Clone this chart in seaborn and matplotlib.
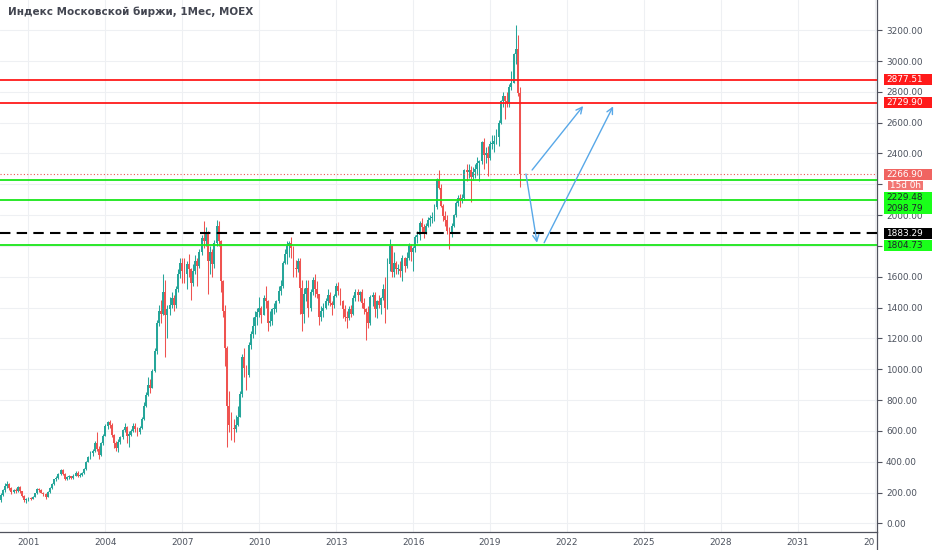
import matplotlib
matplotlib.use('Agg')
import numpy as np
import pandas as pd
import matplotlib.pyplot as plt
from matplotlib.patches import Rectangle
from matplotlib.lines import Line2D
from matplotlib.transforms import Bbox, blended_transform_factory
import seaborn as sns

TITLE = 'Индекс Московской биржи, 1Мес, MOEX'
START = '1999-12-01'

# monthly candles Dec 1999 .. Mar 2020, open = previous close
first_open = 150
closes = [
    185,
    215, 245, 255, 230, 205, 215, 210, 235, 210, 180, 150, 150,
    165, 160, 172, 195, 222, 218, 200, 190, 170, 205, 230, 255,
    285, 295, 320, 345, 320, 290, 300, 305, 295, 310, 330, 310,
    315, 330, 350, 400, 430, 455, 470, 520, 480, 445, 520, 570,
    630, 655, 640, 575, 520, 490, 530, 560, 605, 625, 570, 575,
    600, 635, 610, 590, 620, 680, 760, 830, 900, 880, 990, 1120,
    1300, 1380, 1360, 1500, 1350, 1390, 1420, 1460, 1420, 1520, 1620, 1690,
    1640, 1620, 1680, 1650, 1560, 1640, 1700, 1670, 1760, 1850, 1830, 1890,
    1700, 1760, 1680, 1820, 1930, 1830, 1570, 1380, 1140, 760, 640, 620,
    610, 640, 690, 840, 1080, 1010, 960, 1160, 1230, 1280, 1340, 1370,
    1400, 1350, 1460, 1440, 1300, 1310, 1390, 1390, 1440, 1510, 1540, 1690,
    1750, 1800, 1820, 1790, 1660, 1650, 1700, 1530, 1360, 1490, 1530, 1400,
    1500, 1580, 1520, 1490, 1340, 1380, 1400, 1440, 1480, 1430, 1420, 1475,
    1540, 1510, 1440, 1390, 1340, 1330, 1390, 1360, 1460, 1500, 1480, 1500,
    1430, 1390, 1370, 1300, 1470, 1480, 1390, 1440, 1415, 1460, 1520, 1397,
    1680, 1800, 1630, 1690, 1650, 1650, 1640, 1725, 1670, 1720, 1800, 1761,
    1785, 1860, 1870, 1950, 1920, 1890, 1930, 1970, 1980, 1980, 2050, 2232,
    2178, 2060, 1995, 1970, 1900, 1879, 1930, 2000, 2077, 2110, 2100, 2110,
    2290, 2280, 2290, 2250, 2280, 2300, 2340, 2350, 2475, 2390, 2400, 2370,
    2460, 2460, 2480, 2510, 2600, 2740, 2770, 2740, 2730, 2830, 2860, 3046,
    3076, 2794, 2266.9,
]
highs = [
    195,
    225, 260, 275, 262, 235, 225, 228, 245, 240, 212, 185, 165,
    172, 172, 180, 200, 228, 232, 222, 205, 195, 210, 235, 262,
    290, 305, 325, 355, 350, 325, 310, 315, 310, 318, 340, 338,
    330, 335, 360, 405, 440, 470, 480, 535, 595, 500, 530, 580,
    645, 665, 670, 650, 580, 535, 545, 570, 615, 650, 630, 600,
    615, 650, 650, 625, 635, 690, 790, 850, 950, 940, 1000, 1140,
    1320, 1420, 1450, 1617, 1580, 1420, 1470, 1500, 1480, 1540, 1650, 1720,
    1720, 1720, 1700, 1750, 1660, 1680, 1740, 1720, 1780, 1870, 1962, 1920,
    1900, 1800, 1780, 1840, 1970, 1960, 1840, 1580, 1420, 1150, 860, 720,
    680, 700, 760, 860, 1100, 1140, 1030, 1180, 1250, 1340, 1380, 1400,
    1470, 1410, 1480, 1540, 1450, 1380, 1400, 1430, 1450, 1540, 1580, 1700,
    1780, 1830, 1835, 1860, 1800, 1710, 1720, 1720, 1580, 1530, 1580, 1580,
    1520, 1600, 1620, 1570, 1490, 1410, 1430, 1460, 1520, 1500, 1440, 1490,
    1560, 1565, 1530, 1450, 1420, 1380, 1410, 1420, 1480, 1520, 1520, 1510,
    1520, 1460, 1400, 1410, 1480, 1500, 1500, 1450, 1480, 1470, 1550, 1600,
    1720, 1845, 1800, 1760, 1700, 1680, 1700, 1740, 1730, 1760, 1820, 1810,
    1800, 1870, 1900, 1960, 1980, 1940, 1950, 1990, 2000, 2020, 2070, 2240,
    2290, 2200, 2070, 2030, 2000, 1920, 1950, 2010, 2090, 2130, 2140, 2140,
    2300, 2330, 2330, 2320, 2310, 2330, 2380, 2360, 2480, 2500, 2440, 2450,
    2480, 2520, 2520, 2560, 2620, 2745, 2800, 2770, 2800, 2850, 2935, 3050,
    3233, 3170, 2830,
]
lows = [
    140,
    180, 205, 230, 215, 190, 195, 200, 205, 200, 170, 140, 132,
    145, 150, 155, 168, 192, 205, 195, 180, 158, 168, 200, 225,
    250, 278, 290, 315, 315, 280, 282, 290, 285, 290, 305, 300,
    302, 310, 322, 345, 395, 420, 435, 460, 470, 420, 440, 510,
    565, 615, 620, 560, 490, 470, 465, 515, 545, 590, 520, 497,
    565, 595, 590, 565, 580, 612, 670, 755, 825, 845, 880, 985,
    1100, 1280, 1300, 1350, 1082, 1200, 1350, 1400, 1380, 1400, 1500, 1590,
    1560, 1560, 1520, 1600, 1450, 1540, 1620, 1540, 1660, 1740, 1790, 1800,
    1490, 1620, 1600, 1660, 1800, 1800, 1500, 1340, 1020, 497, 590, 540,
    530, 590, 630, 690, 820, 950, 867, 950, 1130, 1200, 1230, 1290,
    1340, 1300, 1350, 1400, 1250, 1280, 1290, 1360, 1370, 1430, 1480, 1530,
    1680, 1680, 1730, 1720, 1600, 1600, 1630, 1360, 1245, 1300, 1440, 1340,
    1380, 1480, 1470, 1460, 1290, 1310, 1340, 1390, 1420, 1410, 1350, 1400,
    1470, 1480, 1420, 1330, 1310, 1270, 1320, 1340, 1350, 1440, 1440, 1440,
    1400, 1360, 1193, 1270, 1290, 1410, 1340, 1330, 1400, 1360, 1450, 1300,
    1390, 1640, 1600, 1600, 1620, 1620, 1600, 1570, 1630, 1660, 1710, 1700,
    1640, 1760, 1820, 1840, 1890, 1850, 1880, 1920, 1930, 1950, 1960, 2040,
    2170, 2050, 1960, 1930, 1880, 1780, 1860, 1920, 1990, 2060, 2050, 2080,
    2100, 2220, 2240, 2086, 2230, 2240, 2260, 2220, 2330, 2300, 2340, 2256,
    2360, 2430, 2410, 2460, 2450, 2590, 2700, 2627, 2700, 2700, 2810, 2860,
    2980, 2770, 2180,
]

year_ticks = [2001, 2004, 2007, 2010, 2013, 2016, 2019, 2022, 2025, 2028, 2031, 2034]
price_ticks = list(range(0, 3201, 200))

resistance = [2877.51, 2729.90]
support = [2229.48, 2098.79, 1804.73]
pivot = 1883.29
last_price = 2266.90
countdown = '15d 0h'

# hand-drawn scenario arrows: (year, price) start -> end
arrow_up_1 = [(2020.64, 2293), (2022.63, 2708)]
arrow_down = [(2020.40, 2267), (2020.83, 1821)]
arrow_up_2 = [(2021.11, 1821), (2023.80, 2706)]

UP = '#26a69a'
DOWN = '#ef5350'
RED = '#ff1a1a'
GREEN = '#19e619'
BLUE = '#58a8e8'
AXIS = '#50535e'
TEXT = '#4c525e'

sns.set_theme(style='white')
plt.rcParams['font.family'] = ['DejaVu Sans']

dates = pd.date_range(START, periods=len(closes), freq='MS')
df = pd.DataFrame({
    't': dates.year + (dates.month - 1) / 12.0,
    'open': [first_open] + closes[:-1],
    'high': highs,
    'low': lows,
    'close': closes,
})
df['color'] = np.where(df['close'] >= df['open'], UP, DOWN)

W, H = 932, 550
AX_R, AX_B = 877, 532
fig = plt.figure(figsize=(W / 100, H / 100), dpi=100)
fig.patch.set_facecolor('white')
ax = fig.add_axes([0, (H - AX_B) / H, AX_R / W, AX_B / H])
ax.set_xlim(1999.889, 2034.09)
ax.set_ylim(-56, 3396)

# candles
ax.vlines(df['t'], df['low'], df['high'], colors=df['color'], lw=0.75, zorder=2)
body_lo = df[['open', 'close']].min(axis=1)
body_h = (df['close'] - df['open']).abs().clip(lower=7)
ax.bar(df['t'], body_h, bottom=body_lo, width=0.074, color=df['color'],
       lw=0, zorder=2)

# levels
for v in resistance:
    ax.axhline(v, color=RED, lw=1.3, zorder=4)
for v in support:
    ax.axhline(v, color=GREEN, lw=1.3, zorder=4)
ax.axhline(pivot, color='black', lw=1.5, dashes=(5, 3), zorder=4)
ax.axhline(last_price, color=DOWN, lw=0.8, dashes=(1, 2), zorder=4)

# arrows
for seg in (arrow_up_1, arrow_down, arrow_up_2):
    ax.annotate('', xy=seg[1], xytext=seg[0],
                arrowprops=dict(arrowstyle='->', color=BLUE, lw=1.0,
                                mutation_scale=11, shrinkA=0, shrinkB=0),
                zorder=5)

# axes styling
ax.grid(True, color='#eef0f3', lw=0.8)
ax.set_axisbelow(True)
for s in ('left', 'top'):
    ax.spines[s].set_visible(False)
for s in ('right', 'bottom'):
    ax.spines[s].set_color(AXIS)
    ax.spines[s].set_linewidth(0.9)
ax.yaxis.tick_right()
# 2200 and 1800 sit under the price tags on the scale
price_labels = ['' if v in (1800, 2200) else f'{v:.2f}' for v in price_ticks]
ax.set_yticks(price_ticks, labels=price_labels)
ax.set_xticks(year_ticks, labels=[str(y) for y in year_ticks])
ax.tick_params(axis='y', length=3.5, width=0.8, pad=3, labelsize=6.4,
               colors=AXIS, labelcolor=TEXT)
ax.tick_params(axis='x', length=2, width=0.8, pad=2, labelsize=6.4,
               colors=AXIS, labelcolor=TEXT)
clip = Bbox.from_extents(0, 0, AX_R - 3, H)
for lbl in ax.get_xticklabels():
    lbl.set_clip_box(clip)
    lbl.set_clip_on(True)
fig.add_artist(Line2D([AX_R / W] * 2, [0, (H - AX_B) / H],
                      transform=fig.transFigure, color=AXIS, lw=0.9))

# price tags on the scale
trans = blended_transform_factory(ax.transAxes, ax.transData)
px = 3452 / AX_B  # price units per pixel


def tag(y, text, fc, tc, x0=884, x1=932, h=11):
    ax.add_patch(Rectangle((x0 / AX_R, y - h * px / 2), (x1 - x0) / AX_R, h * px,
                           transform=trans, fc=fc, ec='none', clip_on=False,
                           zorder=6))
    ax.text((x0 + 2.5) / AX_R if x1 == 932 else (x0 + x1) / 2 / AX_R, y, text,
            transform=trans, ha='left' if x1 == 932 else 'center', va='center',
            fontsize=6.4, color=tc, clip_on=False, zorder=7)


tag(resistance[0], f'{resistance[0]:.2f}', RED, 'white')
tag(resistance[1], f'{resistance[1]:.2f}', RED, 'white')
tag(last_price, f'{last_price:.2f}', '#f06461', 'white')
tag(2195, countdown, '#f27572', 'white', x0=888, x1=923, h=9)
tag(2117, f'{support[0]:.2f}', '#1aff1a', '#1e222d')
tag(2043, f'{support[1]:.2f}', '#1aff1a', '#1e222d')
tag(pivot, f'{pivot:.2f}', 'black', 'white')
tag(support[2], f'{support[2]:.2f}', '#1aff1a', '#1e222d')

fig.text(8 / W, 1 - 12 / H, TITLE, ha='left', va='center', fontsize=7.5,
         weight='bold', color='#434651')

fig.savefig('out.png', dpi=100, facecolor='white')
